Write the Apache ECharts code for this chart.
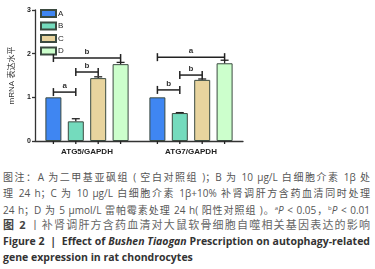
<!DOCTYPE html>
<html>
<head>
<meta charset="utf-8">
<script src="https://cdn.jsdelivr.net/npm/echarts@6/dist/echarts.min.js"></script>
<style>
  body { margin: 0; background: #fff; }
  #wrap { position: relative; width: 375px; height: 269px; overflow: hidden; }
  #box1 { position: absolute; left: 0; top: 0; width: 375px; height: 165px; }
  .cap { position: absolute; left: 3px; width: 367px; height: 16px; line-height: 16px;
         white-space: nowrap; text-align: justify; text-align-last: justify;
         font-family: "Open Sans", "Noto Sans CJK SC", sans-serif; font-size: 10px; color: #555; }
  .fig { font-size: 11px; color: #666; }
  .en { font-weight: bold; color: #333; font-size: 10.5px; }
  sup { font-size: 6px; line-height: 0; }
</style>
</head>
<body>
<div id="wrap">
  <div id="box1"></div>
  <div class="cap" style="top:169px">图注：A 为二甲基亚砜组 ( 空白对照组 )；B 为 10 μg/L 白细胞介素 1β 处</div>
  <div class="cap" style="top:185px">理 24 h；C 为 10 μg/L 白细胞介素 1β+10% 补肾调肝方含药血清同时处理</div>
  <div class="cap" style="top:202px">24 h；D 为 5 μmol/L 雷帕霉素处理 24 h( 阳性对照组 )。<sup>a</sup><i>P</i> &lt; 0.05，<sup>b</sup><i>P</i> &lt; 0.01</div>
  <div class="cap fig" style="top:217px"><b style="color:#444">图 2</b> 丨补肾调肝方含药血清对大鼠软骨细胞自噬相关基因表达的影响</div>
  <div class="cap en" style="top:233px">Figure 2 &nbsp;|&nbsp; Effect of <i>Bushen Tiaogan</i> Prescription on autophagy-related</div>
  <div class="cap en" style="top:249px; text-align-last:left">gene expression in rat chondrocytes</div>
</div>
<script>
// 数据
var categories = ['ATG5/GAPDH', 'ATG7/GAPDH'];
var groupNames = ['A', 'B', 'C', 'D'];
var valA = [1.00, 1.00];
var valB = [0.45, 0.64];
var valC = [1.44, 1.40];
var valD = [1.76, 1.78];
var errA = [0, 0];
var errB = [0.06, 0.01];
var errC = [0.03, 0.02];
var errD = [0.04, 0.07];
// 显著性标记: [分类, 起始柱, 结束柱, 高度, 字母]
var brackets = [
  [0, 0, 1, 1.12, 'a'], [0, 1, 2, 1.58, 'b'], [0, 0, 3, 1.90, 'b'],
  [1, 0, 1, 1.17, 'b'], [1, 1, 2, 1.51, 'b'], [1, 0, 3, 1.92, 'a']
];
var yTicks = [0, 1, 2, 3];

var colors = ['#3f86f2', '#74dbbd', '#e8d49e', '#ccffcc'];
var values = [valA, valB, valC, valD];
var errs = [errA, errB, errC, errD];
var BAR_W = 16, STEP = 22.4;

var myChart1 = echarts.init(document.getElementById('box1'));

function barX(api, cat, idx) {
  return api.coord([cat, 0])[0] + (idx - 1.5) * STEP;
}

var series = groupNames.map(function (n, i) {
  return {
    name: n,
    type: 'bar',
    barWidth: BAR_W,
    barGap: '40%',
    itemStyle: { color: colors[i], borderColor: '#3b4a40', borderWidth: 1 },
    data: values[i]
  };
});

// 误差线
var errData = [];
values.forEach(function (v, i) {
  v.forEach(function (y, c) { errData.push([c, i, y, errs[i][c]]); });
});
series.push({
  type: 'custom',
  silent: true,
  z: 5,
  data: errData,
  renderItem: function (params, api) {
    var c = api.value(0), i = api.value(1), y = api.value(2), e = api.value(3);
    var x = barX(api, c, i);
    var y0 = api.coord([c, y])[1];
    var y1 = api.coord([c, y + e])[1];
    var st = { stroke: '#222', lineWidth: 1.3 };
    var kids = [
      // x轴刻度
      { type: 'line', shape: { x1: x, y1: api.coord([c, 0])[1], x2: x, y2: api.coord([c, 0])[1] + 3 }, style: st }
    ];
    if (e > 0) {
      kids.push({ type: 'line', shape: { x1: x, y1: y0, x2: x, y2: y1 }, style: st });
      kids.push({ type: 'line', shape: { x1: x - 4, y1: y1, x2: x + 4, y2: y1 }, style: st });
    }
    return { type: 'group', children: kids };
  }
});

// 显著性括号
series.push({
  type: 'custom',
  silent: true,
  z: 6,
  data: brackets,
  renderItem: function (params, api) {
    var c = api.value(0), a = api.value(1), b = api.value(2), h = api.value(3);
    var txt = brackets[params.dataIndex][4];
    var x1 = barX(api, c, a), x2 = barX(api, c, b);
    var y = api.coord([c, h])[1];
    var st = { stroke: '#222', lineWidth: 1.5 };
    return {
      type: 'group',
      children: [
        { type: 'line', shape: { x1: x1, y1: y, x2: x2, y2: y }, style: st },
        { type: 'line', shape: { x1: x1, y1: y - 4, x2: x1, y2: y + 4 }, style: st },
        { type: 'line', shape: { x1: x2, y1: y - 4, x2: x2, y2: y + 4 }, style: st },
        { type: 'text', x: (x1 + x2) / 2, y: y - 2,
          style: { text: txt, fill: '#333', font: 'bold 8px Liberation Sans', align: 'center', verticalAlign: 'bottom' } }
      ]
    };
  }
});

var option = {
  backgroundColor: '#fff',
  animation: false,
  grid: { left: 33, right: 132, top: 10, bottom: 24 },
  legend: {
    data: groupNames,
    orient: 'vertical',
    left: 35,
    top: 4,
    itemWidth: 15,
    itemHeight: 7,
    itemGap: 3.5,
    icon: 'rect',
    textStyle: { color: '#222', fontSize: 8, fontFamily: 'Liberation Sans', padding: [0, 0, 0, -3] }
  },
  xAxis: {
    type: 'category',
    data: categories,
    axisLine: { lineStyle: { color: '#333', width: 1.3 } },
    axisTick: { show: false },
    axisLabel: { color: '#222', fontSize: 8, fontWeight: 'bold', fontFamily: 'Liberation Sans', margin: 7 }
  },
  yAxis: {
    type: 'value',
    min: 0,
    max: 3,
    interval: 1,
    name: 'mRNA 表达水平',
    nameLocation: 'middle',
    nameGap: 19,
    nameTextStyle: { color: '#333', fontSize: 8, fontFamily: 'Liberation Sans, Noto Sans CJK SC' },
    axisLine: { show: true, lineStyle: { color: '#333', width: 1.3 } },
    axisTick: { show: true, length: 3, lineStyle: { color: '#333', width: 1.3 } },
    splitLine: { show: false },
    axisLabel: {
      color: '#222', fontSize: 7, fontWeight: 'bold', margin: 4, fontFamily: 'Liberation Sans',
      formatter: function (v) { return yTicks.indexOf(v) >= 0 ? String(v) : ''; }
    }
  },
  series: series
};

myChart1.setOption(option);
</script>
</body>
</html>
